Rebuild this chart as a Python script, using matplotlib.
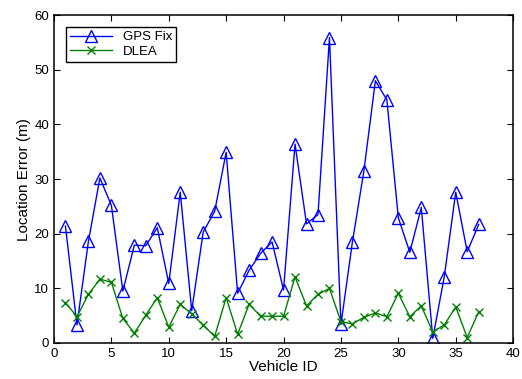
import matplotlib
matplotlib.use("Agg")
import matplotlib.pyplot as plt

plt.rcParams['font.family'] = ['Liberation Sans', 'DejaVu Sans']

vehicle_ids = list(range(1, 38))
gps_fix = [21.4, 3.3, 18.6, 30.2, 25.2, 9.5, 17.9, 17.8, 21.1, 10.9,
           27.6, 5.9, 20.3, 24.1, 34.9, 9.1, 13.3, 16.4, 18.5, 9.7,
           36.4, 21.8, 23.5, 55.9, 3.4, 18.5, 31.5, 48.0, 44.5, 22.9,
           16.6, 24.8, 0.85, 12.1, 27.6, 16.7, 21.7]
dlea = [7.4, 4.8, 8.9, 11.7, 11.1, 4.5, 1.8, 5.1, 8.3, 2.9,
        7.1, 5.3, 3.3, 1.2, 8.3, 1.6, 7.1, 4.9, 4.9, 4.9,
        12.1, 6.8, 8.9, 10.0, 3.9, 3.5, 4.7, 5.5, 4.8, 9.1,
        4.8, 6.8, 2.0, 3.3, 6.6, 1.0, 5.7]

fig = plt.figure(figsize=(5.22, 3.79), dpi=100)
ax = fig.add_axes([0.1034, 0.095, 0.8796, 0.865])
ax.plot(vehicle_ids, gps_fix, color=(0, 0, 1), marker='^', markersize=9,
        markerfacecolor='none', markeredgecolor=(0, 0, 1), linewidth=1, label='GPS Fix')
ax.plot(vehicle_ids, dlea, color=(0, 0.5, 0), marker='x', markersize=6,
        linewidth=1, label='DLEA')
ax.set_xlim(0, 40)
ax.set_ylim(0, 60)
ax.set_xticks(range(0, 41, 5))
ax.set_yticks(range(0, 61, 10))
for s in ax.spines.values():
    s.set_linewidth(1.1)
ax.tick_params(direction='in', top=True, right=True, labelsize=9.5, length=4)
ax.set_xlabel('Vehicle ID', fontsize=11, labelpad=0)
ax.set_ylabel('Location Error (m)', fontsize=11, labelpad=2)
leg = ax.legend(loc='upper left', fontsize=9.5, fancybox=False, edgecolor='black',
                framealpha=1, borderaxespad=0.9, handlelength=3.2, borderpad=0.3,
                labelspacing=0.2)
leg.get_frame().set_linewidth(1)
fig.savefig('out.png', dpi=100)
